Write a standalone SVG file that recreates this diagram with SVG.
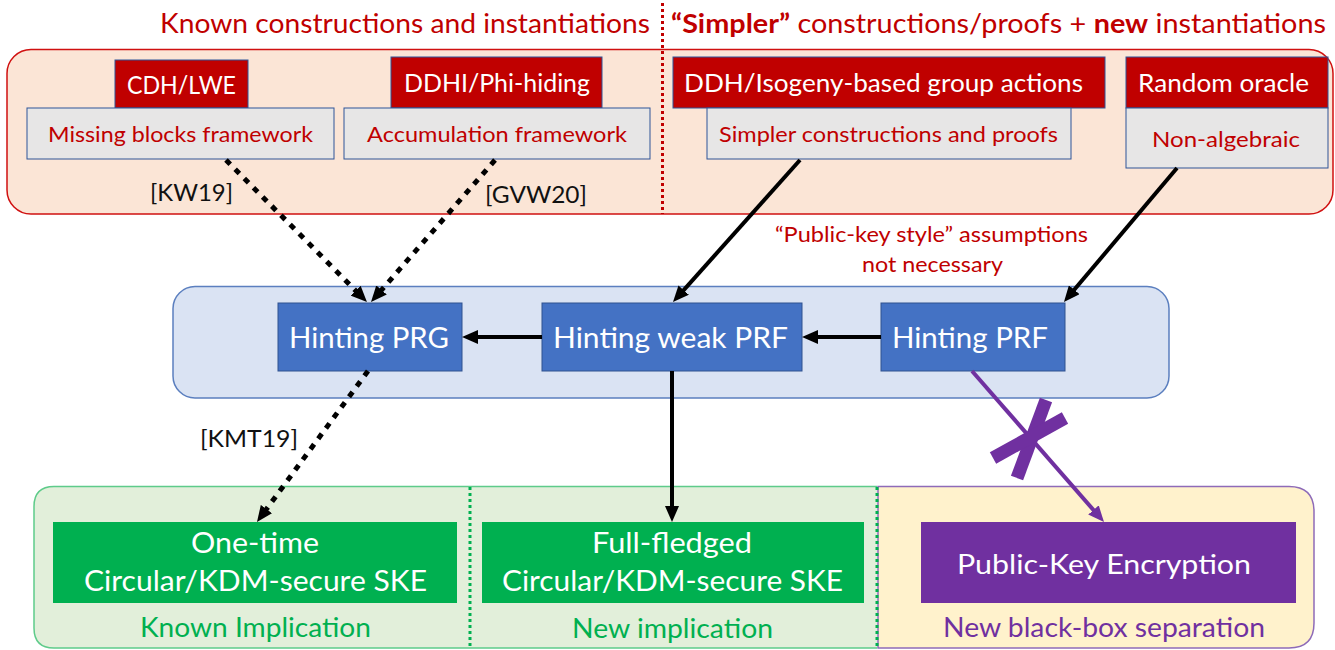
<svg xmlns="http://www.w3.org/2000/svg" width="1335" height="650" viewBox="0 0 1335 650">
<style>
text{font-family:Lato,"Open Sans","Liberation Sans",sans-serif;}
.red{fill:#C00000;}
.wh{fill:#FFFFFF;}
.blk{fill:#111111;}
.rbox{fill:#C00000;stroke:#2F5597;stroke-width:1;}
.gbox{fill:#E7E6E6;stroke:#2F5597;stroke-width:1;}
.bbox{fill:#4472C4;stroke:#2F528F;stroke-width:1;}
.grn{fill:#00B050;}
.pur{fill:#7030A0;}
.ln{fill:none;stroke:#000;stroke-width:4;}
.dot{fill:none;stroke:#000;stroke-width:5;stroke-dasharray:6 7;}
</style>
<defs>
<marker id="ah" viewBox="0 0 16 14" markerWidth="16" markerHeight="14" markerUnits="userSpaceOnUse" refX="4" refY="7" orient="auto"><path d="M0,0 L16,7 L0,14 z" fill="#000"/></marker>
<marker id="ahp" viewBox="0 0 16 14" markerWidth="16" markerHeight="14" markerUnits="userSpaceOnUse" refX="4" refY="7" orient="auto"><path d="M0,0 L16,7 L0,14 z" fill="#7030A0"/></marker>
</defs>

<!-- regions -->
<g id="region-top">
<rect x="7" y="49.5" width="1326" height="164.5" rx="24" fill="#FBE5D6" stroke="#D01010" stroke-width="1.5"/>
</g>
<g id="region-mid">
<rect x="173" y="286.5" width="996" height="111.5" rx="22" fill="#DAE3F3" stroke="#5B7FBF" stroke-width="1.5"/>
</g>
<g id="region-green">
<path d="M877,486.5 L54,486.5 Q34,486.5 34,506.5 L34,628 Q34,648 54,648 L877,648" fill="#E2EFDA" stroke="#5ECB8A" stroke-width="1.5"/>
</g>
<g id="region-yellow">
<path d="M878,486.5 L1289,486.5 Q1314,486.5 1314,511.5 L1314,623 Q1314,648 1289,648 L878,648 Z" fill="#FFF2CC" stroke="#8E6BB8" stroke-width="1.5"/>
</g>
<line x1="877" y1="487" x2="877" y2="648" stroke="#00B050" stroke-width="3" stroke-dasharray="3 3"/>
<line x1="470" y1="487" x2="470" y2="648" stroke="#00B050" stroke-width="3" stroke-dasharray="3 3"/>
<line x1="662.5" y1="3" x2="662.5" y2="214" stroke="#C00000" stroke-width="3" stroke-dasharray="3 3"/>

<!-- titles -->
<g id="title-left"><text x="160" y="33" font-size="26" class="red" textLength="490" lengthAdjust="spacingAndGlyphs">Known constructions and instantiations</text></g>
<g id="title-right"><text x="671" y="33" font-size="26" class="red" textLength="655" lengthAdjust="spacingAndGlyphs"><tspan font-weight="bold">“Simpler”</tspan> constructions/proofs + <tspan font-weight="bold">new</tspan> instantiations</text></g>

<!-- top nodes -->
<g id="cdh-lwe">
<rect x="115" y="60" width="133" height="48" class="rbox"/>
<text x="127" y="94" font-size="25" class="wh" textLength="109" lengthAdjust="spacingAndGlyphs">CDH/LWE</text>
</g>
<g id="missing-blocks">
<rect x="27" y="108" width="307" height="51" class="gbox"/>
<text x="48" y="142" font-size="22" class="red" textLength="265" lengthAdjust="spacingAndGlyphs">Missing blocks framework</text>
</g>
<g id="ddhi">
<rect x="391" y="57" width="211" height="51" class="rbox"/>
<text x="404" y="92" font-size="25" class="wh" textLength="186" lengthAdjust="spacingAndGlyphs">DDHI/Phi-hiding</text>
</g>
<g id="accumulation">
<rect x="344" y="108" width="306" height="51" class="gbox"/>
<text x="367" y="142" font-size="22" class="red" textLength="260" lengthAdjust="spacingAndGlyphs">Accumulation framework</text>
</g>
<g id="ddh-isogeny">
<rect x="673" y="57" width="432" height="51" class="rbox"/>
<text x="684" y="92" font-size="25" class="wh" textLength="399" lengthAdjust="spacingAndGlyphs">DDH/Isogeny-based group actions</text>
</g>
<g id="simpler">
<rect x="707" y="108" width="364" height="51" class="gbox"/>
<text x="719" y="142" font-size="22" class="red" textLength="339" lengthAdjust="spacingAndGlyphs">Simpler constructions and proofs</text>
</g>
<g id="random-oracle">
<rect x="1126" y="57" width="202" height="51" class="rbox"/>
<text x="1138" y="92" font-size="25" class="wh" textLength="171" lengthAdjust="spacingAndGlyphs">Random oracle</text>
</g>
<g id="non-algebraic">
<rect x="1126" y="108" width="202" height="60" class="gbox"/>
<text x="1152" y="147" font-size="22" class="red" textLength="148" lengthAdjust="spacingAndGlyphs">Non-algebraic</text>
</g>

<!-- middle nodes -->
<g id="hinting-prg">
<rect x="278" y="303" width="184" height="68" class="bbox"/>
<text x="289" y="348" font-size="29" class="wh" textLength="160" lengthAdjust="spacingAndGlyphs">Hinting PRG</text>
</g>
<g id="hinting-weak-prf">
<rect x="542" y="303" width="260" height="68" class="bbox"/>
<text x="553" y="348" font-size="29" class="wh" textLength="235" lengthAdjust="spacingAndGlyphs">Hinting weak PRF</text>
</g>
<g id="hinting-prf">
<rect x="881" y="303" width="184" height="68" class="bbox"/>
<text x="892" y="348" font-size="29" class="wh" textLength="156" lengthAdjust="spacingAndGlyphs">Hinting PRF</text>
</g>

<!-- bottom nodes -->
<g id="one-time">
<rect x="53" y="522" width="404" height="81" class="grn"/>
<text x="255" y="553" font-size="28" class="wh" text-anchor="middle" textLength="128" lengthAdjust="spacingAndGlyphs">One-time</text>
<text x="84" y="591" font-size="28" class="wh" textLength="343" lengthAdjust="spacingAndGlyphs">Circular/KDM-secure SKE</text>
</g>
<g id="full-fledged">
<rect x="482" y="522" width="382" height="81" class="grn"/>
<text x="672" y="553" font-size="28" class="wh" text-anchor="middle" textLength="160" lengthAdjust="spacingAndGlyphs">Full-fledged</text>
<text x="502" y="591" font-size="28" class="wh" textLength="341" lengthAdjust="spacingAndGlyphs">Circular/KDM-secure SKE</text>
</g>
<g id="pke">
<rect x="921" y="522" width="375" height="81" class="pur"/>
<text x="957" y="574" font-size="27" class="wh" textLength="294" lengthAdjust="spacingAndGlyphs">Public-Key Encryption</text>
</g>

<!-- labels -->
<g id="labels">
<text x="150" y="201" font-size="24" class="blk" textLength="83" lengthAdjust="spacingAndGlyphs">[KW19]</text>
<text x="485" y="203" font-size="24" class="blk" textLength="102" lengthAdjust="spacingAndGlyphs">[GVW20]</text>
<text x="200" y="447" font-size="24" class="blk" textLength="98" lengthAdjust="spacingAndGlyphs">[KMT19]</text>
<text x="775" y="242" font-size="21.5" class="red" textLength="313" lengthAdjust="spacingAndGlyphs">“Public-key style” assumptions</text>
<text x="862" y="272" font-size="21.5" class="red" textLength="141" lengthAdjust="spacingAndGlyphs">not necessary</text>
<text x="140" y="637" font-size="27" fill="#00B050" textLength="231" lengthAdjust="spacingAndGlyphs">Known Implication</text>
<text x="572" y="638" font-size="27" fill="#00B050" textLength="201" lengthAdjust="spacingAndGlyphs">New implication</text>
<text x="943" y="637" font-size="27" fill="#7030A0" textLength="322" lengthAdjust="spacingAndGlyphs">New black-box separation</text>
</g>

<!-- connectors -->
<g id="connectors">
<line x1="226" y1="160" x2="358.5" y2="293.5" class="dot" marker-end="url(#ah)"/>
<line x1="495" y1="160" x2="378.9" y2="293" class="dot" marker-end="url(#ah)"/>
<line x1="800" y1="160" x2="681" y2="293.1" class="ln" marker-end="url(#ah)"/>
<line x1="1177" y1="168" x2="1071.7" y2="292.8" class="ln" marker-end="url(#ah)"/>
<line x1="542" y1="337" x2="474" y2="337" class="ln" marker-end="url(#ah)"/>
<line x1="881" y1="337" x2="814" y2="337" class="ln" marker-end="url(#ah)"/>
<line x1="672" y1="371" x2="672" y2="510" class="ln" marker-end="url(#ah)"/>
<line x1="368" y1="371" x2="264.1" y2="512.3" class="dot" marker-end="url(#ah)"/>
<line x1="972" y1="371" x2="1096.1" y2="513" fill="none" stroke="#7030A0" stroke-width="4" marker-end="url(#ahp)"/>
<g id="cross" stroke="#7030A0" stroke-width="13" stroke-linecap="butt">
<line x1="1046" y1="400" x2="1017" y2="478"/>
<line x1="1065" y1="418" x2="993" y2="458"/>
</g>
</g>
</svg>
